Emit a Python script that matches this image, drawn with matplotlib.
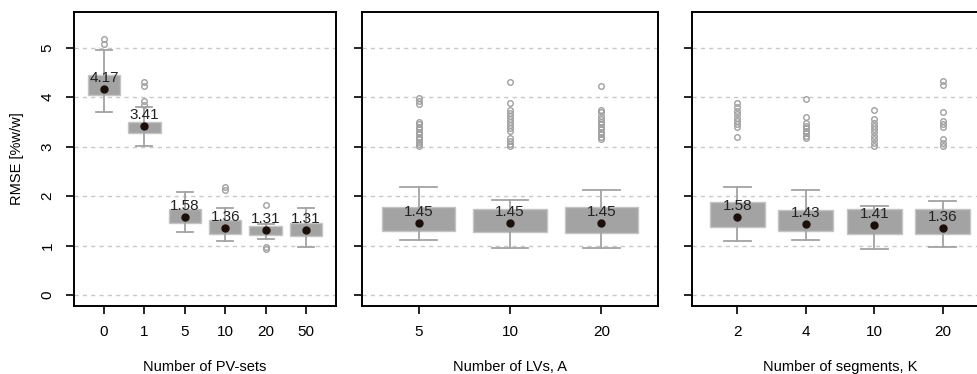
import matplotlib
matplotlib.use("Agg")
import matplotlib.pyplot as plt

plt.rcParams['font.family'] = ['Liberation Sans', 'DejaVu Sans']

# ---- data ----
pv_labels = ["0", "1", "5", "10", "20", "50"]
pv_q1 = [4.04, 3.28, 1.45, 1.24, 1.22, 1.19]
pv_q3 = [4.44, 3.50, 1.73, 1.51, 1.40, 1.45]
pv_lo = [3.69, 3.02, 1.27, 1.10, 1.13, 0.98]
pv_hi = [4.95, 3.80, 2.09, 1.77, 1.43, 1.77]
pv_mean = [4.17, 3.41, 1.58, 1.36, 1.31, 1.31]
pv_out = [[5.08, 5.18], [3.85, 3.92, 4.22, 4.30], [], [2.12, 2.18],
          [1.82, 0.97, 0.94], []]

lv_labels = ["5", "10", "20"]
lv_q1 = [1.30, 1.27, 1.26]
lv_q3 = [1.79, 1.73, 1.78]
lv_lo = [1.12, 0.95, 0.96]
lv_hi = [2.19, 1.92, 2.13]
lv_mean = [1.45, 1.45, 1.45]
lv_out = [[3.99, 3.93, 3.86, 3.50, 3.45, 3.40, 3.35, 3.30, 3.25, 3.20, 3.15, 3.10, 3.05, 3.02],
          [4.31, 3.89, 3.74, 3.68, 3.62, 3.56, 3.50, 3.44, 3.38, 3.32, 3.18, 3.12, 3.06, 3.01],
          [4.23, 3.75, 3.70, 3.62, 3.55, 3.50, 3.45, 3.40, 3.35, 3.30, 3.25, 3.20, 3.16]]

seg_labels = ["2", "4", "10", "20"]
seg_q1 = [1.38, 1.30, 1.23, 1.23]
seg_q3 = [1.89, 1.72, 1.73, 1.74]
seg_lo = [1.10, 1.12, 0.94, 0.97]
seg_hi = [2.19, 2.13, 1.80, 1.90]
seg_mean = [1.58, 1.43, 1.41, 1.36]
seg_out = [[3.88, 3.80, 3.72, 3.65, 3.58, 3.52, 3.46, 3.40, 3.20],
           [3.97, 3.60, 3.48, 3.42, 3.37, 3.32, 3.27, 3.22, 3.17],
           [3.75, 3.55, 3.48, 3.42, 3.36, 3.30, 3.22, 3.15, 3.08, 3.02],
           [4.32, 4.24, 3.70, 3.52, 3.46, 3.40, 3.15, 3.08, 3.02]]

BOX_FILL = '#a3a3a3'
BOX_EDGE = '#c4c4c4'
WHISK = '#a3a3a3'
DOT = '#1c0f0a'
FS = 11


def panel(ax, labels, q1, q3, lo, hi, means, outs, xlabel, show_y=False):
    n = len(labels)
    stats = []
    for i in range(n):
        stats.append(dict(q1=q1[i], q3=q3[i], whislo=lo[i], whishi=hi[i],
                          med=means[i], mean=means[i], fliers=outs[i]))
    # gridlines
    for yv in range(6):
        ax.axhline(yv, color='#c8c8c8', linestyle=(0, (3, 3)), linewidth=1.0, zorder=0)
    ax.bxp(stats, positions=range(1, n + 1), widths=0.8, capwidths=0.4,
           patch_artist=True, showmeans=False,
           boxprops=dict(facecolor=BOX_FILL, edgecolor=BOX_EDGE, linewidth=1.0),
           whiskerprops=dict(color=WHISK, linewidth=1.3),
           capprops=dict(color=WHISK, linewidth=1.3),
           medianprops=dict(linewidth=0),
           flierprops=dict(marker='o', markersize=4, markerfacecolor='none',
                           markeredgecolor='#a0a0a0', markeredgewidth=1.0))
    ax.plot(range(1, n + 1), means, 'o', color=DOT, markersize=5, zorder=5)
    for i, m in enumerate(means):
        ax.annotate(f"{m:.2f}", (i + 1, m), xytext=(0, 3), textcoords='offset points',
                    ha='center', va='bottom', fontsize=FS, color='#222222', zorder=6)

    ax.set_xlim(0.5 - 0.04 * n, n + 0.5 + 0.04 * n)
    ax.set_ylim(-0.22, 5.72)
    ax.set_xticks(range(1, n + 1))
    ax.set_xticklabels(labels)
    ax.set_yticks(range(6))
    if show_y:
        ax.set_yticklabels([str(v) for v in range(6)], rotation=90, va='center')
        ax.set_ylabel("RMSE [%w/w]", fontsize=10.5, labelpad=12)
    else:
        ax.set_yticklabels([])
    ax.tick_params(direction='out', length=6, width=1.2, labelsize=FS, pad=8)
    ax.set_xlabel(xlabel, fontsize=10.5, labelpad=15)
    for s in ax.spines.values():
        s.set_linewidth(1.4)


fig = plt.figure(figsize=(9.77, 3.74), dpi=100)
ax1 = fig.add_axes([74 / 977, 68 / 374, 262 / 977, 294 / 374])
ax2 = fig.add_axes([362 / 977, 68 / 374, 296 / 977, 294 / 374])
ax3 = fig.add_axes([692 / 977, 68 / 374, 296 / 977, 294 / 374])

panel(ax1, pv_labels, pv_q1, pv_q3, pv_lo, pv_hi, pv_mean, pv_out, "Number of PV-sets", show_y=True)
panel(ax2, lv_labels, lv_q1, lv_q3, lv_lo, lv_hi, lv_mean, lv_out, "Number of LVs, A")
panel(ax3, seg_labels, seg_q1, seg_q3, seg_lo, seg_hi, seg_mean, seg_out, "Number of segments, K")

fig.savefig("out.png", dpi=100)
